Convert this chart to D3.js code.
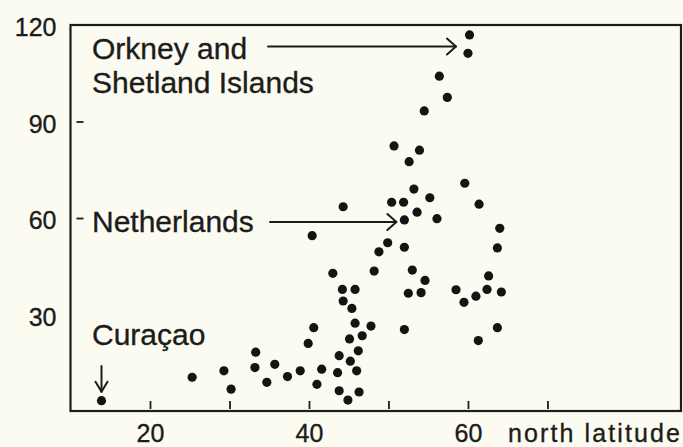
<!DOCTYPE html>
<html>
<head>
<meta charset="utf-8">
<script src="https://cdn.jsdelivr.net/npm/d3@7"></script>
<style>
  html, body { margin: 0; padding: 0; background: #fcfbf1; }
  svg { display: block; }
  text { font-family: "Liberation Sans", Arial, Helvetica, sans-serif; fill: #1c1c1c; stroke: #1c1c1c; stroke-width: 0.35px; }
</style>
</head>
<body>
<svg id="chart" width="683" height="447"></svg>
<script>
// Observations: north latitude of each locality and the measured value
const latitude = [
  13.9, 25.3, 29.3, 30.2, 33.3, 33.2, 34.7, 35.7, 37.3, 38.9,
  39.9, 40.6, 41.6, 41.0, 40.4, 49.9, 48.8, 43.0, 48.2, 44.2,
  45.8, 44.3, 45.4, 45.8, 47.8, 46.7, 45.1, 46.2, 43.8, 45.2,
  46.0, 43.6, 43.8, 46.3, 44.9, 44.3, 50.7, 53.9, 52.6, 59.6,
  53.2, 55.2, 50.4, 51.9, 61.4, 53.6, 52.0, 56.1, 52.0, 53.0,
  54.6, 52.5, 54.1, 58.5, 59.5, 61.0, 52.0, 64.0, 63.7, 62.6,
  62.4, 64.2, 63.7, 61.3, 60.2, 60.0, 56.4, 57.4, 54.5
];
const value = [
   3.2, 10.5, 12.5,  6.8, 18.3, 13.5,  8.9, 14.5, 10.7, 12.5,
  21.0, 25.9, 13.0,  8.3, 54.5, 52.3, 49.5, 42.8, 43.5, 37.8,
  37.8, 34.2, 31.9, 27.3, 26.4, 23.4, 22.4, 18.7, 17.2, 15.5,
  12.5, 11.9,  6.3,  5.9,  3.4, 63.5, 82.4, 81.1, 77.5, 70.8,
  69.0, 66.3, 64.9, 64.9, 64.3, 61.8, 59.4, 59.8, 50.9, 43.8,
  40.6, 36.6, 36.8, 37.7, 33.8, 35.7, 25.3, 56.8, 50.7, 42.0,
  37.8, 37.0, 25.9, 21.9, 116.9, 111.2, 104.1, 97.5, 93.3
];

// Axis ticks
const xTickMarks = [20, 30, 40, 50, 60, 70];
const xTickLabels = [20, 40, 60];
const yTickLabels = [30, 60, 90, 120];
const yTickMarks = [60, 90];
const xTitle = "north latitude";

// Annotated localities: [latitude, value] of the point each arrow refers to
const notes = [
  { lines: ["Orkney and", "Shetland Islands"], lat: 60.0, val: 111.2 },
  { lines: ["Netherlands"], lat: 52.0, val: 59.4 },
  { lines: ["Curaçao"], lat: 13.9, val: 3.2 }
];

const svg = d3.select("#chart");
const ink = "#1c1c1c";

const x = d3.scaleLinear().domain([10, 86.8]).range([70.5, 681]);
const y = d3.scaleLinear().domain([0, 120]).range([411, 25]);

// Frame
svg.append("rect")
  .attr("x", x(10)).attr("y", y(120))
  .attr("width", x(86.8) - x(10)).attr("height", y(0) - y(120))
  .attr("fill", "none").attr("stroke", ink).attr("stroke-width", 2.2);

// Inner tick marks along the bottom, sitting just above the frame line
const xMarks = svg.append("g")
  .attr("transform", `translate(0,${y(0) - 2})`)
  .call(d3.axisTop(x).tickValues(xTickMarks).tickSize(8).tickFormat(""));
xMarks.select(".domain").remove();
xMarks.selectAll("line").attr("stroke", ink).attr("stroke-width", 1.8);

// X labels
const xLab = svg.append("g")
  .attr("transform", `translate(0,${y(0)})`)
  .call(d3.axisBottom(x).tickValues(xTickLabels).tickSize(0).tickPadding(13));
xLab.select(".domain").remove();
xLab.selectAll("text").attr("font-size", 25).attr("fill", ink);

svg.append("text")
  .attr("x", 508).attr("y", 442)
  .attr("font-size", 25)
  .attr("textLength", 172).attr("lengthAdjust", "spacing")
  .text(xTitle);

// Y labels
const yLab = svg.append("g")
  .attr("transform", `translate(${x(10)},0)`)
  .call(d3.axisLeft(y).tickValues(yTickLabels).tickSize(0).tickPadding(14));
yLab.select(".domain").remove();
yLab.selectAll("text").attr("font-size", 25).attr("dy", "0.42em").attr("fill", ink);

// Short inner dashes on the y axis
const yMarks = svg.append("g")
  .attr("transform", `translate(${x(10) + 13},0)`)
  .call(d3.axisLeft(y).tickValues(yTickMarks).tickSize(7).tickFormat(""));
yMarks.select(".domain").remove();
yMarks.selectAll("line").attr("stroke", ink).attr("stroke-width", 1.8);

// Points
svg.append("g").selectAll("circle")
  .data(d3.range(latitude.length))
  .join("circle")
  .attr("cx", i => x(latitude[i]))
  .attr("cy", i => y(value[i]))
  .attr("r", 4.6)
  .attr("fill", "#141414");

// Annotations
const ann = svg.append("g")
  .attr("fill", "none").attr("stroke", ink).attr("stroke-width", 2)
  .attr("stroke-linecap", "round").attr("stroke-linejoin", "round");

function hArrow(x0, x1, yy) {
  ann.append("line").attr("x1", x0).attr("x2", x1).attr("y1", yy).attr("y2", yy);
  ann.append("path").attr("d", `M${x1 - 9},${yy - 8} L${x1},${yy} L${x1 - 9},${yy + 8}`);
}
function vArrow(xx, y0, y1) {
  ann.append("line").attr("x1", xx).attr("x2", xx).attr("y1", y0).attr("y2", y1);
  ann.append("path").attr("d", `M${xx - 6},${y1 - 10} L${xx},${y1} L${xx + 6},${y1 - 10}`);
}

const textX = 92;
// Orkney and Shetland Islands
const n0 = notes[0];
n0.lines.forEach((t, k) => {
  svg.append("text").attr("x", textX).attr("y", 59 + k * 34).attr("font-size", 30).text(t);
});
hArrow(268, x(n0.lat) - 12, 46.5);

// Netherlands
const n1 = notes[1];
svg.append("text").attr("x", textX).attr("y", 231.5).attr("font-size", 30).text(n1.lines[0]);
hArrow(270, x(n1.lat) - 8, 222);

// Curaçao
const n2 = notes[2];
svg.append("text").attr("x", textX).attr("y", 345).attr("font-size", 30).text(n2.lines[0]);
vArrow(x(n2.lat), 366, y(n2.val) - 9);
</script>
</body>
</html>
